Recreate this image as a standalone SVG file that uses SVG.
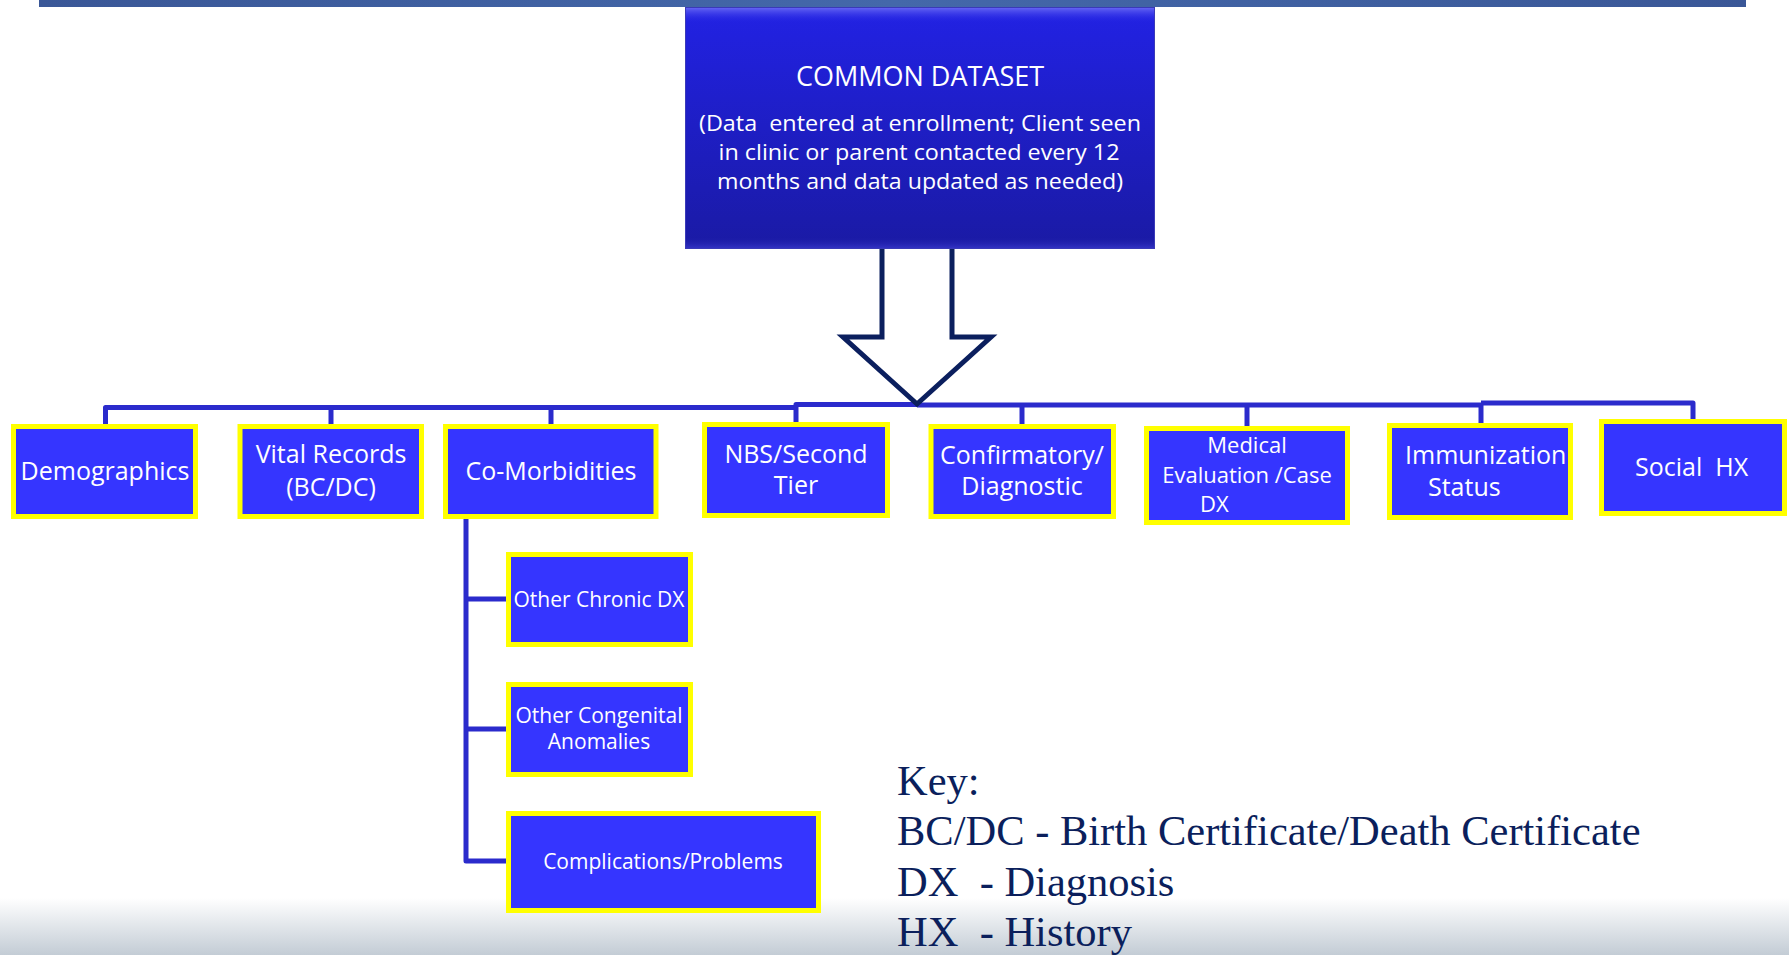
<svg xmlns="http://www.w3.org/2000/svg" width="1789" height="955" viewBox="0 0 1789 955">
<defs>
<linearGradient id="bg" x1="0" y1="0" x2="0" y2="1">
<stop offset="0" stop-color="#ffffff"/>
<stop offset="1" stop-color="#c3ccd5"/>
</linearGradient>
<linearGradient id="topbar" x1="0" y1="0" x2="1" y2="0">
<stop offset="0" stop-color="#3a5797"/>
<stop offset="0.5" stop-color="#4468aa"/>
<stop offset="1" stop-color="#3a5797"/>
</linearGradient>
<linearGradient id="mainfill" x1="0" y1="0" x2="0" y2="1">
<stop offset="0" stop-color="#2222e4"/>
<stop offset="1" stop-color="#1a1aa4"/>
</linearGradient>
<linearGradient id="bevel" x1="0" y1="0" x2="0" y2="1">
<stop offset="0" stop-color="#6b6bf4"/>
<stop offset="1" stop-color="#2424e4" stop-opacity="0"/>
</linearGradient>
<linearGradient id="bevelb" x1="0" y1="0" x2="0" y2="1">
<stop offset="0" stop-color="#1a1aa4" stop-opacity="0"/>
<stop offset="1" stop-color="#3636c8"/>
</linearGradient>
</defs>
<style>
.box{fill:#3535ff;stroke:#ffff00;stroke-width:5}
.t{font-family:"Open Sans","Noto Sans",sans-serif;fill:#ffffff;text-anchor:middle}
.line{stroke:#2b2bcc;fill:none;stroke-width:5;stroke-linejoin:round;stroke-linecap:butt}
.key{font-family:"Liberation Serif","Times New Roman",serif;fill:#0b1f5c;font-size:42.5px}
</style>
<rect x="0" y="0" width="1789" height="955" fill="#ffffff"/>
<rect x="0" y="898" width="1789" height="57" fill="url(#bg)"/>
<rect x="39" y="0" width="1707" height="7" fill="url(#topbar)"/>

<g id="connectors">
<path class="line" d="M105.5 426 V407.5 H796"/>
<path class="line" d="M331 426 V407.5"/>
<path class="line" d="M551 426 V407.5"/>
<path class="line" stroke-width="4" d="M796 422 V404.5 H917"/>
<path class="line" stroke-width="9" d="M917 405 H1481"/>
<path class="line" d="M1022 424 V405"/>
<path class="line" d="M1247 426 V405"/>
<path class="line" d="M1481 423 V405"/>
<path class="line" stroke-width="4" d="M1481 403 H1693 V419"/>
<path class="line" stroke-width="6" d="M466 518 V861 H506"/>
<path class="line" d="M466 599 H506"/>
<path class="line" d="M466 729 H506"/>
<polygon points="882,245 952,245 952,337 991,337 917,404 843,337 882,337" fill="#ffffff" stroke="#0b1f5e" stroke-width="5" stroke-linejoin="miter"/>
</g>

<g id="common-dataset">
<rect x="685" y="7" width="470" height="242" fill="url(#mainfill)"/>
<rect x="685" y="7" width="470" height="16" fill="url(#bevel)"/>
<rect x="685" y="236" width="470" height="13" fill="url(#bevelb)"/>
<rect x="685.5" y="7.5" width="469" height="241" fill="none" stroke="#3a3ab8" stroke-width="1"/>
<text class="t" x="920" y="86" font-size="27">COMMON DATASET</text>
<text class="t" x="920" y="131" font-size="21" textLength="442" lengthAdjust="spacingAndGlyphs" xml:space="preserve">(Data  entered at enrollment; Client seen</text>
<text class="t" x="919" y="160" font-size="21" textLength="401" lengthAdjust="spacingAndGlyphs">in clinic or parent contacted every 12</text>
<text class="t" x="920" y="189" font-size="21" textLength="406" lengthAdjust="spacingAndGlyphs">months and data updated as needed)</text>
</g>

<g id="demographics">
<rect class="box" x="13.5" y="426.5" width="182" height="90"/>
<text class="t" x="105" y="480" font-size="25">Demographics</text>
</g>
<g id="vital-records">
<rect class="box" x="240" y="426.5" width="181.5" height="90"/>
<text class="t" x="331" y="463" font-size="25">Vital Records</text>
<text class="t" x="331" y="496" font-size="25">(BC/DC)</text>
</g>
<g id="co-morbidities">
<rect class="box" x="445.5" y="426.5" width="210.5" height="90"/>
<text class="t" x="551" y="480" font-size="25">Co-Morbidities</text>
</g>
<g id="nbs-second-tier">
<rect class="box" x="704.5" y="424.5" width="183" height="91"/>
<text class="t" x="796" y="463" font-size="25">NBS/Second</text>
<text class="t" x="796" y="494" font-size="25">Tier</text>
</g>
<g id="confirmatory-diagnostic">
<rect class="box" x="931" y="426.5" width="182.5" height="90"/>
<text class="t" x="1022" y="464" font-size="25">Confirmatory/</text>
<text class="t" x="1022" y="495" font-size="25">Diagnostic</text>
</g>
<g id="medical-evaluation">
<rect class="box" x="1146.5" y="428.5" width="201" height="94"/>
<text class="t" x="1247" y="453" font-size="22">Medical</text>
<text class="t" x="1247" y="483" font-size="22">Evaluation /Case</text>
<text class="t" x="1200" y="512" font-size="22" style="text-anchor:start">DX</text>
</g>
<g id="immunization-status">
<rect class="box" x="1389.5" y="425.5" width="181" height="92"/>
<text class="t" x="1405" y="464" font-size="25" style="text-anchor:start">Immunization</text>
<text class="t" x="1428" y="496" font-size="25" style="text-anchor:start">Status</text>
</g>
<g id="social-hx">
<rect class="box" x="1601.5" y="421.5" width="183" height="92"/>
<text class="t" x="1635" y="476" font-size="25" style="text-anchor:start" xml:space="preserve">Social  HX</text>
</g>
<g id="other-chronic-dx">
<rect class="box" x="508.5" y="554.5" width="182" height="90"/>
<text class="t" x="599" y="607" font-size="21">Other Chronic DX</text>
</g>
<g id="other-congenital-anomalies">
<rect class="box" x="508.5" y="684.5" width="182" height="90"/>
<text class="t" x="599" y="723" font-size="21">Other Congenital</text>
<text class="t" x="599" y="749" font-size="21">Anomalies</text>
</g>
<g id="complications-problems">
<rect class="box" x="508.5" y="813.5" width="310" height="97"/>
<text class="t" x="663" y="869" font-size="21">Complications/Problems</text>
</g>

<g id="key">
<text class="key" x="897" y="795">Key:</text>
<text class="key" x="897" y="845">BC/DC - Birth Certificate/Death Certificate</text>
<text class="key" x="897" y="896" xml:space="preserve">DX  - Diagnosis</text>
<text class="key" x="897" y="946" xml:space="preserve">HX  - History</text>
</g>
</svg>
